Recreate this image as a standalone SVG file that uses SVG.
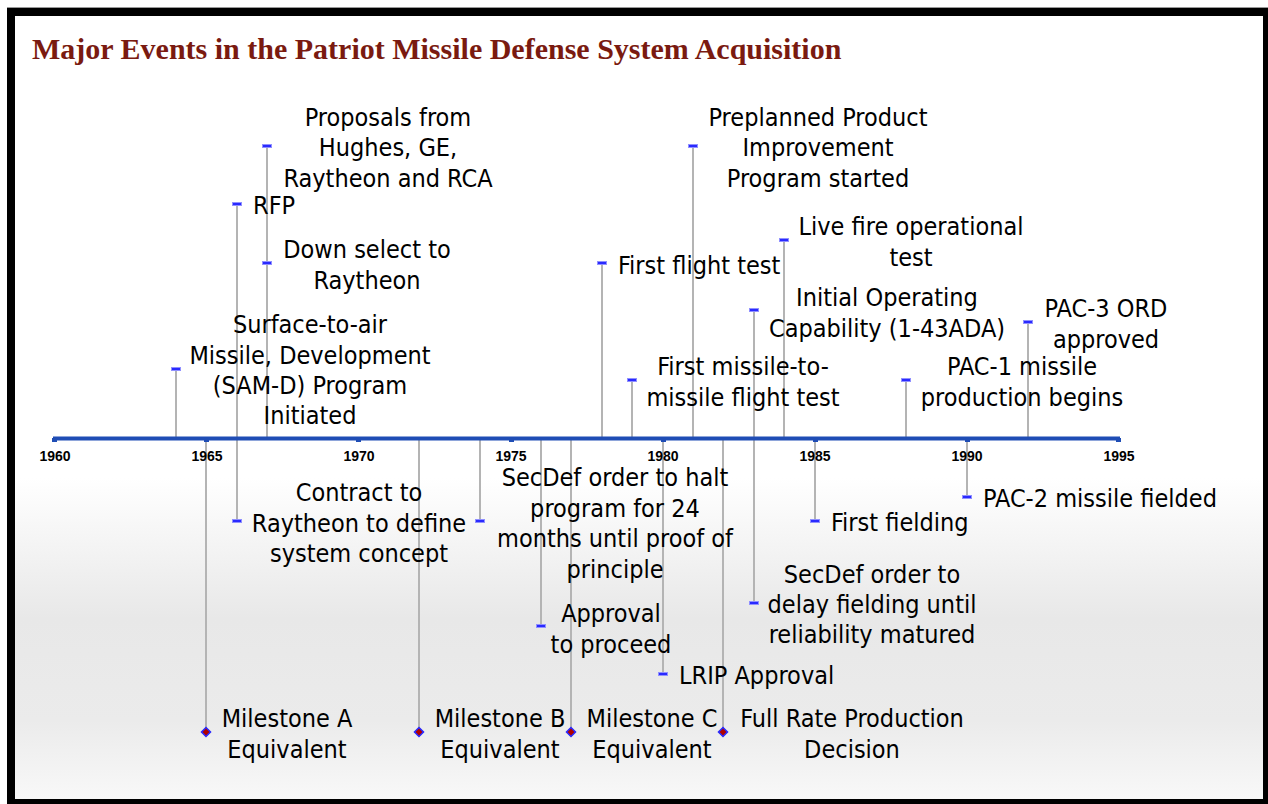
<svg xmlns="http://www.w3.org/2000/svg" width="1268" height="804" viewBox="0 0 1268 804">
<style>
.t{font-family:"DejaVu Sans Condensed","DejaVu Sans",sans-serif;font-size:25px;fill:#000}
.c{text-anchor:middle}
.yr{font-family:"Liberation Sans",Arial,sans-serif;font-weight:bold;font-size:14px;text-anchor:middle;fill:#000}
.title{font-family:"Liberation Serif","Times New Roman",serif;font-weight:bold;font-size:30px;fill:#7a1a10}
.v{stroke:#b4b4b4;stroke-width:2;fill:none}
.dash{fill:#2a2aff;stroke:#9090ff;stroke-width:1}
.dia{fill:#b00000;stroke:#2a2aff;stroke-width:1.5}
</style>
<defs>
<linearGradient id="bg" gradientUnits="userSpaceOnUse" x1="0" y1="16" x2="0" y2="799">
<stop offset="0" stop-color="#ffffff"/>
<stop offset="0.59" stop-color="#ffffff"/>
<stop offset="0.77" stop-color="#e8e8e8"/>
<stop offset="0.9" stop-color="#ebebeb"/>
<stop offset="1" stop-color="#f8f8f8"/>
</linearGradient>
<rect id="m" x="-4.5" y="-1.5" width="9" height="3"/>
<rect id="d" x="-3.2" y="-3.2" width="6.4" height="6.4" transform="rotate(45)"/>
</defs>
<rect x="0" y="0" width="1268" height="804" fill="#ffffff"/>
<rect x="15" y="16" width="1248" height="783" fill="url(#bg)"/>
<line x1="7" y1="7.5" x2="1268" y2="7.5" stroke="#999" stroke-width="1"/>
<rect x="11" y="12" width="1256" height="791" fill="none" stroke="#000" stroke-width="8"/>
<text class="title" x="32" y="59">Major Events in the Patriot Missile Defense System Acquisition</text>

<g id="connectors">
<line class="v" x1="176" y1="438" x2="176" y2="369"/>
<line class="v" x1="237" y1="438" x2="237" y2="204"/>
<line class="v" x1="267" y1="438" x2="267" y2="146"/>
<line class="v" x1="602" y1="438" x2="602" y2="263"/>
<line class="v" x1="632" y1="438" x2="632" y2="380"/>
<line class="v" x1="693" y1="438" x2="693" y2="146"/>
<line class="v" x1="754" y1="438" x2="754" y2="310"/>
<line class="v" x1="784" y1="438" x2="784" y2="240"/>
<line class="v" x1="906" y1="438" x2="906" y2="380"/>
<line class="v" x1="1028" y1="438" x2="1028" y2="322"/>
<line class="v" x1="206" y1="438" x2="206" y2="732"/>
<line class="v" x1="237" y1="438" x2="237" y2="521"/>
<line class="v" x1="419" y1="438" x2="419" y2="732"/>
<line class="v" x1="480" y1="438" x2="480" y2="521"/>
<line class="v" x1="541" y1="438" x2="541" y2="626"/>
<line class="v" x1="571" y1="438" x2="571" y2="732"/>
<line class="v" x1="663" y1="438" x2="663" y2="674"/>
<line class="v" x1="723" y1="438" x2="723" y2="732"/>
<line class="v" x1="754" y1="438" x2="754" y2="603"/>
<line class="v" x1="815" y1="438" x2="815" y2="521"/>
<line class="v" x1="967" y1="438" x2="967" y2="497"/>
</g>

<g id="axis">
<line x1="53" y1="438.5" x2="1120" y2="438.5" stroke="#1f4db5" stroke-width="4"/>
<g fill="#1f4db5">
<rect x="52" y="438" width="5" height="4"/>
<rect x="204" y="438" width="5" height="4"/>
<rect x="356" y="438" width="5" height="4"/>
<rect x="509" y="438" width="5" height="4"/>
<rect x="661" y="438" width="5" height="4"/>
<rect x="813" y="438" width="5" height="4"/>
<rect x="965" y="438" width="5" height="4"/>
<rect x="1116" y="438" width="5" height="4"/>
</g>
<text class="yr" x="55" y="461">1960</text>
<text class="yr" x="207" y="461">1965</text>
<text class="yr" x="359" y="461">1970</text>
<text class="yr" x="511" y="461">1975</text>
<text class="yr" x="663" y="461">1980</text>
<text class="yr" x="815" y="461">1985</text>
<text class="yr" x="967" y="461">1990</text>
<text class="yr" x="1119" y="461">1995</text>
</g>

<g id="e-samd"><use href="#m" class="dash" x="176" y="369"/>
<text class="t c" x="310"><tspan x="310" y="333">Surface-to-air</tspan><tspan x="310" y="364">Missile, Development</tspan><tspan x="310" y="394">(SAM-D) Program</tspan><tspan x="310" y="424">Initiated</tspan></text></g>
<g id="e-rfp"><use href="#m" class="dash" x="237" y="204"/>
<text class="t" x="253" y="214">RFP</text></g>
<g id="e-proposals"><use href="#m" class="dash" x="267" y="146"/>
<text class="t c"><tspan x="388" y="126">Proposals from</tspan><tspan x="388" y="156">Hughes, GE,</tspan><tspan x="388" y="187">Raytheon and RCA</tspan></text></g>
<g id="e-downselect"><use href="#m" class="dash" x="267" y="263"/>
<text class="t c"><tspan x="367" y="258">Down select to</tspan><tspan x="367" y="289">Raytheon</tspan></text></g>
<g id="e-firstflight"><use href="#m" class="dash" x="602" y="263"/>
<text class="t" x="618" y="274">First flight test</text></g>
<g id="e-m2m"><use href="#m" class="dash" x="632" y="380"/>
<text class="t c"><tspan x="743" y="375">First missile-to-</tspan><tspan x="743" y="406">missile flight test</tspan></text></g>
<g id="e-p3i"><use href="#m" class="dash" x="693" y="146"/>
<text class="t c"><tspan x="818" y="126">Preplanned Product</tspan><tspan x="818" y="156">Improvement</tspan><tspan x="818" y="187">Program started</tspan></text></g>
<g id="e-ioc"><use href="#m" class="dash" x="754" y="310"/>
<text class="t c"><tspan x="887" y="306">Initial Operating</tspan><tspan x="887" y="337">Capability (1-43ADA)</tspan></text></g>
<g id="e-livefire"><use href="#m" class="dash" x="784" y="240"/>
<text class="t c"><tspan x="911" y="235">Live fire operational</tspan><tspan x="911" y="266">test</tspan></text></g>
<g id="e-pac1"><use href="#m" class="dash" x="906" y="380"/>
<text class="t c"><tspan x="1022" y="375">PAC-1 missile</tspan><tspan x="1022" y="406">production begins</tspan></text></g>
<g id="e-pac3"><use href="#m" class="dash" x="1028" y="322"/>
<text class="t c"><tspan x="1106" y="317">PAC-3 ORD</tspan><tspan x="1106" y="348">approved</tspan></text></g>

<g id="e-contract"><use href="#m" class="dash" x="237" y="521"/>
<text class="t c"><tspan x="359" y="501">Contract to</tspan><tspan x="359" y="532">Raytheon to define</tspan><tspan x="359" y="562">system concept</tspan></text></g>
<g id="e-halt"><use href="#m" class="dash" x="480" y="521"/>
<text class="t c"><tspan x="615" y="486">SecDef order to halt</tspan><tspan x="615" y="517">program for 24</tspan><tspan x="615" y="547">months until proof of</tspan><tspan x="615" y="578">principle</tspan></text></g>
<g id="e-approval"><use href="#m" class="dash" x="541" y="626"/>
<text class="t c"><tspan x="611" y="622">Approval</tspan><tspan x="611" y="653">to proceed</tspan></text></g>
<g id="e-lrip"><use href="#m" class="dash" x="663" y="674"/>
<text class="t" x="679" y="684">LRIP Approval</text></g>
<g id="e-delay"><use href="#m" class="dash" x="754" y="603"/>
<text class="t c"><tspan x="872" y="583">SecDef order to</tspan><tspan x="872" y="613">delay fielding until</tspan><tspan x="872" y="643">reliability matured</tspan></text></g>
<g id="e-fielding"><use href="#m" class="dash" x="815" y="521"/>
<text class="t" x="831" y="531">First fielding</text></g>
<g id="e-pac2"><use href="#m" class="dash" x="967" y="497"/>
<text class="t" x="983" y="507">PAC-2 missile fielded</text></g>

<g id="ms-a"><use href="#d" class="dia" x="206" y="732"/>
<text class="t c"><tspan x="287" y="727">Milestone A</tspan><tspan x="287" y="758">Equivalent</tspan></text></g>
<g id="ms-b"><use href="#d" class="dia" x="419" y="732"/>
<text class="t c"><tspan x="500" y="727">Milestone B</tspan><tspan x="500" y="758">Equivalent</tspan></text></g>
<g id="ms-c"><use href="#d" class="dia" x="571" y="732"/>
<text class="t c"><tspan x="652" y="727">Milestone C</tspan><tspan x="652" y="758">Equivalent</tspan></text></g>
<g id="ms-frp"><use href="#d" class="dia" x="723" y="732"/>
<text class="t c"><tspan x="852" y="727">Full Rate Production</tspan><tspan x="852" y="758">Decision</tspan></text></g>
</svg>
